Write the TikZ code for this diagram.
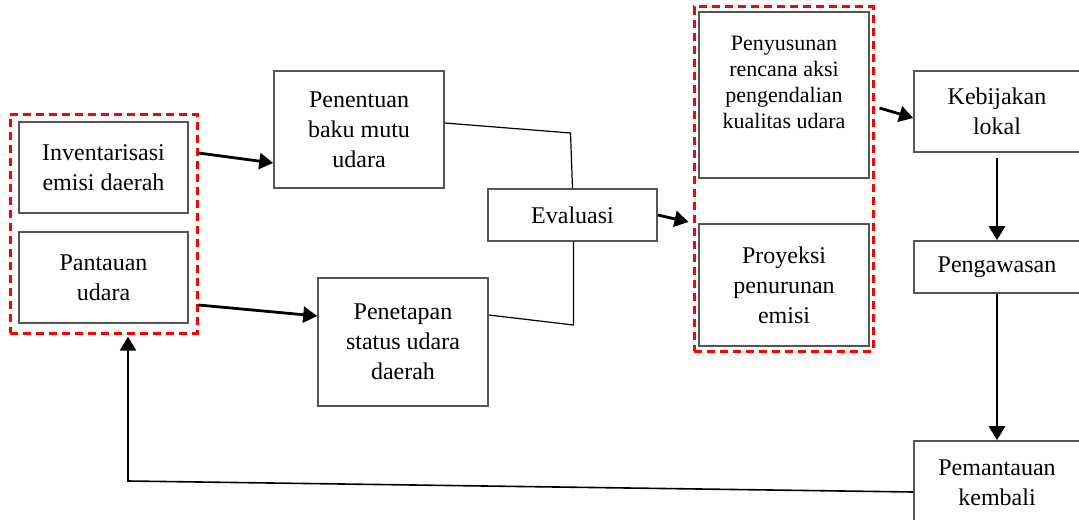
\documentclass[tikz,border=0pt]{standalone}
\usepackage{fontspec}
\setmainfont{Liberation Serif}
\usetikzlibrary{arrows.meta,calc}
\definecolor{garis}{HTML}{555555}
\tikzset{
	kotak/.style={draw=garis, line width=0.8pt, inner sep=0pt, align=center,
		font=\fontsize{12}{15}\selectfont},
	grup/.style={draw=red, line width=1.5pt, dash pattern=on 4pt off 2.5pt, inner sep=0pt},
	panah/.style={line width=1.4pt, -{Triangle[length=7pt, width=8pt]}},
	hubung/.style={line width=0.6pt}
}

\begin{document}
\begin{tikzpicture}[x=0.5pt, y=-0.5pt]
		%%%%% START %%%%%
		\useasboundingbox (0, 0) rectangle (1079, 519);
		\clip (0, 0) rectangle (1079, 519);
		
		\node[grup, minimum width=93.5pt, minimum height=109.5pt] (grupkiri) at (103.5, 223.5) {};
		\node[grup, minimum width=89.5pt, minimum height=172pt] (grupkanan) at (783.5, 179) {};
		
		\node[kotak, minimum width=84.5pt, minimum height=45.5pt] (inv) at (103.5, 167.5) {Inventarisasi\\emisi daerah};
		\node[kotak, minimum width=84.5pt, minimum height=45.5pt] (pant) at (103.5, 277.5) {Pantauan\\udara};
		
		\node[kotak, minimum width=85pt, minimum height=58.5pt] (penentuan) at (359, 129.5) {Penentuan\\baku mutu\\udara};
		\node[kotak, minimum width=85pt, minimum height=64pt] (penetapan) at (403, 342) {Penetapan\\status udara\\daerah};
		\node[kotak, minimum width=84.5pt, minimum height=26pt] (evaluasi) at (572.5, 215) {Evaluasi};
		
		\node[kotak, minimum width=85pt, minimum height=83pt, font=\fontsize{11}{13}\selectfont] (penyusunan) at (784, 95) {Penyusunan\\rencana aksi\\pengendalian\\kualitas udara\\~};
		\node[kotak, minimum width=85pt, minimum height=61pt] (proyeksi) at (784, 285) {Proyeksi\\penurunan\\emisi};
		
		\node[kotak, minimum width=83pt, minimum height=40.5pt] (kebijakan) at (997, 111.5) {Kebijakan\\lokal};
		\node[kotak, minimum width=83pt, minimum height=26pt] (pengawasan) at (997, 267) {Pengawasan};
		\node[kotak, minimum width=83pt, minimum height=42pt] (pemantauan) at (997, 483) {Pemantauan\\kembali};
		
		% panah utama
		\draw[panah] ([yshift=7.25pt]grupkiri.east |- inv.east) -- ([yshift=-16.75pt]penentuan.west);
		\draw[panah] ([yshift=-13.75pt]grupkiri.east |- pant.east) -- ([yshift=13pt]penetapan.west);
		\draw[panah] (evaluasi.east) -- ([xshift=-2pt, yshift=-21.5pt]grupkanan.west);
		\draw[panah] ([xshift=2.5pt, yshift=35.5pt]grupkanan.east) -- ([yshift=-3.25pt]kebijakan.west);
		\draw[panah] ([yshift=-2.5pt]kebijakan.south) -- (pengawasan.north);
		\draw[panah] (pengawasan.south) -- (pemantauan.north);
		
		% garis evaluasi
		\draw[hubung] ([yshift=3.25pt]penentuan.east) -- ([xshift=-1pt]evaluasi.north |- 0, 133) -- (evaluasi.north);
		\draw[hubung] ([xshift=0.5pt]evaluasi.south) -- ([xshift=0.5pt]evaluasi.south |- 0, 325) -- ([yshift=13.5pt]penetapan.east);
		
		% umpan balik
		\draw[hubung, line width=0.8pt, -{Triangle[length=7pt, width=8pt]}] ([yshift=-4.5pt]pemantauan.west) -- ([xshift=12.25pt]grupkiri.south |- 0, 481) -- ([xshift=12.25pt, yshift=-1pt]grupkiri.south);
		
		%%%%% END %%%%%
\end{tikzpicture}
\end{document}
